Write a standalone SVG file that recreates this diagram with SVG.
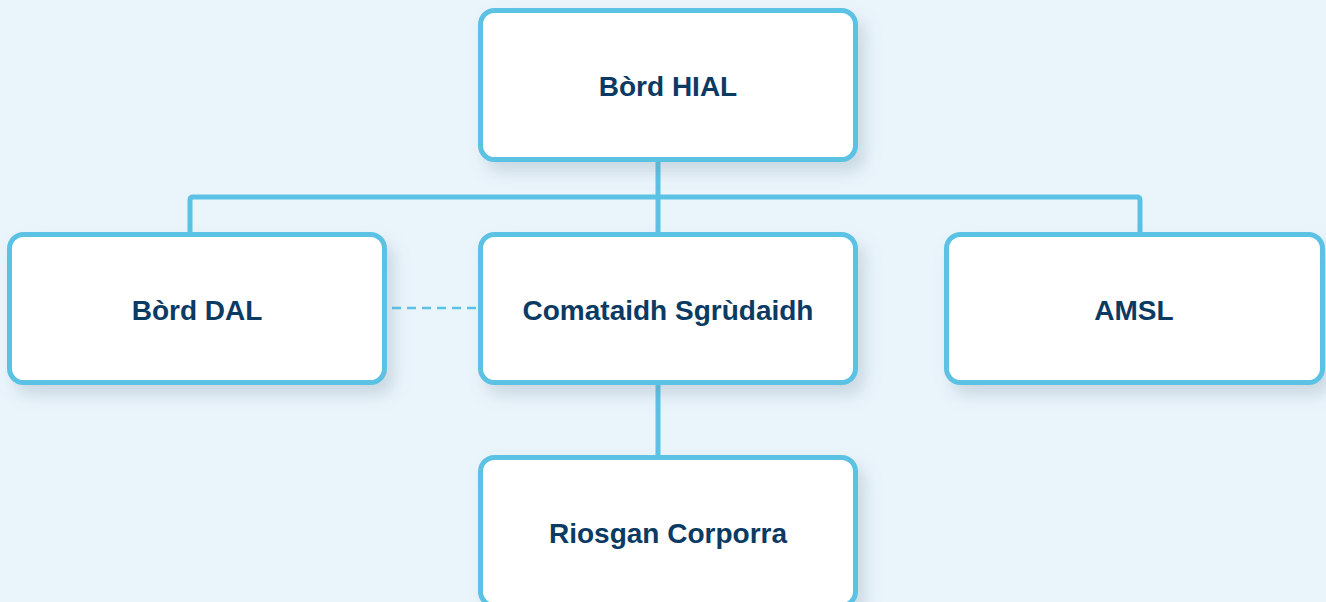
<svg xmlns="http://www.w3.org/2000/svg" width="1326" height="602" viewBox="0 0 1326 602">
<style>
.box{fill:#ffffff;stroke:#5bc2e4;stroke-width:5;filter:url(#sh)}
.lbl{font-family:"Liberation Sans",Arial,sans-serif;font-weight:bold;font-size:28px;fill:#0b3a63;text-anchor:middle}
.ln{fill:none;stroke:#5bc2e4;stroke-width:5;stroke-linejoin:round}
.dash{fill:none;stroke:#5bc2e4;stroke-width:2.5;stroke-dasharray:9 6}
</style>
<defs>
<filter id="sh" x="-10%" y="-10%" width="130%" height="140%">
<feDropShadow dx="7" dy="10" stdDeviation="8" flood-color="#6b7f99" flood-opacity="0.25"/>
</filter>
</defs>
<rect width="1326" height="602" fill="#eaf5fb"/>
<g id="connectors">
<path class="ln" d="M658,160 V234"/>
<path class="ln" d="M190,234 V200 Q190,197 193,197 H1137 Q1140,197 1140,200 V234"/>
<path class="ln" d="M658,383 V457"/>
<path class="dash" d="M392,308 H476"/>
</g>
<g id="bord-hial">
<rect class="box" x="480.5" y="10.5" width="375" height="149" rx="14"/>
<text class="lbl" x="668" y="96">Bòrd HIAL</text>
</g>
<g id="bord-dal">
<rect class="box" x="9.5" y="234.5" width="375" height="148" rx="14"/>
<text class="lbl" x="197" y="320">Bòrd DAL</text>
</g>
<g id="comataidh">
<rect class="box" x="480.5" y="234.5" width="375" height="148" rx="14"/>
<text class="lbl" x="668" y="320">Comataidh Sgrùdaidh</text>
</g>
<g id="amsl">
<rect class="box" x="946.5" y="234.5" width="376" height="148" rx="14"/>
<text class="lbl" x="1134" y="320">AMSL</text>
</g>
<g id="riosgan">
<rect class="box" x="480.5" y="457.5" width="375" height="148" rx="14"/>
<text class="lbl" x="668" y="543">Riosgan Corporra</text>
</g>
</svg>
